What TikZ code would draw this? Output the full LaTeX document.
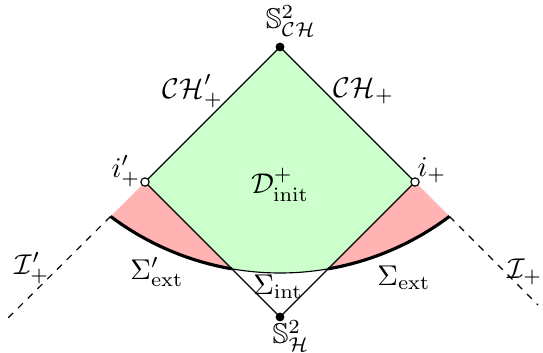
\documentclass[tikz,border=0pt]{standalone}
\usepackage{amssymb}
\begin{document}
\begin{tikzpicture}[x={(0.35pt,0)}, y={(0,-0.35pt)},
  thinline/.style={line width=0.4pt},
  thickline/.style={line width=1.1pt},
  dashline/.style={dash pattern=on 2.4pt off 2.4pt, line width=0.4pt},
  fullpt/.style={circle, fill=black, inner sep=0pt, minimum size=3.1pt},
  openpt/.style={circle, draw=black, fill=white, line width=0.4pt, inner sep=0pt, minimum size=2.9pt},
  lbl/.style={inner sep=0pt}]
\useasboundingbox (0,0) rectangle (543,352);
\definecolor{regG}{RGB}{204,255,204}
\definecolor{regR}{RGB}{255,179,179}
% key points
\coordinate (T) at (280,47);
\coordinate (L) at (145,182);
\coordinate (R) at (415,182);
\coordinate (B) at (280,317);
\coordinate (AL) at (110.57,216.43);
\coordinate (AR) at (449.43,216.43);
\coordinate (IL) at (231.86,268.86);
\coordinate (IR) at (328.14,268.86);
\coordinate (DL) at (8,318);
\coordinate (DR) at (538,305);
% regions
\fill[regG] (T) -- (R) -- (IR)
  -- plot[domain=9.83:-9.83, samples=30] ({280+282*sin(\x)}, {-9+282*cos(\x)})
  -- (L) -- cycle;
\fill[regR] (L) -- (AL)
  -- plot[domain=-36.93:-9.83, samples=40] ({280+282*sin(\x)}, {-9+282*cos(\x)})
  -- cycle;
\fill[regR] (R) -- (AR)
  -- plot[domain=36.93:9.83, samples=40] ({280+282*sin(\x)}, {-9+282*cos(\x)})
  -- cycle;
% edges
\draw[thinline] (L) -- (T) -- (R);
\draw[thinline] (L) -- (B) -- (R);
\draw[thinline] plot[domain=-9.83:9.83, samples=30] ({280+282*sin(\x)}, {-9+282*cos(\x)});
\draw[thickline] plot[domain=-36.93:-9.83, samples=40] ({280+282*sin(\x)}, {-9+282*cos(\x)});
\draw[thickline] plot[domain=9.83:36.93, samples=40] ({280+282*sin(\x)}, {-9+282*cos(\x)});
\draw[dashline] (AL) -- (DL);
\draw[dashline] (AR) -- (DR);
% points
\node[fullpt] (top) at (T) {};
\node[fullpt] (bot) at (B) {};
\node[openpt] (il) at (L) {};
\node[openpt] (ir) at (R) {};
% labels
\node[lbl] (lSCH) at (291,21) {$\mathbb{S}^2_{\mathcal{CH}}$};
\node[lbl] (lCHp) at (193,91) {$\mathcal{CH}'_+$};
\node[lbl] (lCH) at (364,91) {$\mathcal{CH}_+$};
\node[lbl] (lip) at (126,171) {$i'_+$};
\node[lbl] (li) at (432,170) {$i_+$};
\node[lbl] (lD) at (280,185) {$\mathcal{D}^+_{\mathrm{init}}$};
\node[lbl] (lSep) at (157,272) {$\Sigma'_{\mathrm{ext}}$};
\node[lbl] (lSe) at (404,278) {$\Sigma_{\mathrm{ext}}$};
\node[lbl] (lSi) at (278,287) {$\Sigma_{\mathrm{int}}$};
\node[lbl] (lSH) at (291,336) {$\mathbb{S}^2_{\mathcal{H}}$};
\node[lbl] (lIp) at (32,268) {$\mathcal{I}'_+$};
\node[lbl] (lI) at (525,272) {$\mathcal{I}_+$};
\end{tikzpicture}
\end{document}
